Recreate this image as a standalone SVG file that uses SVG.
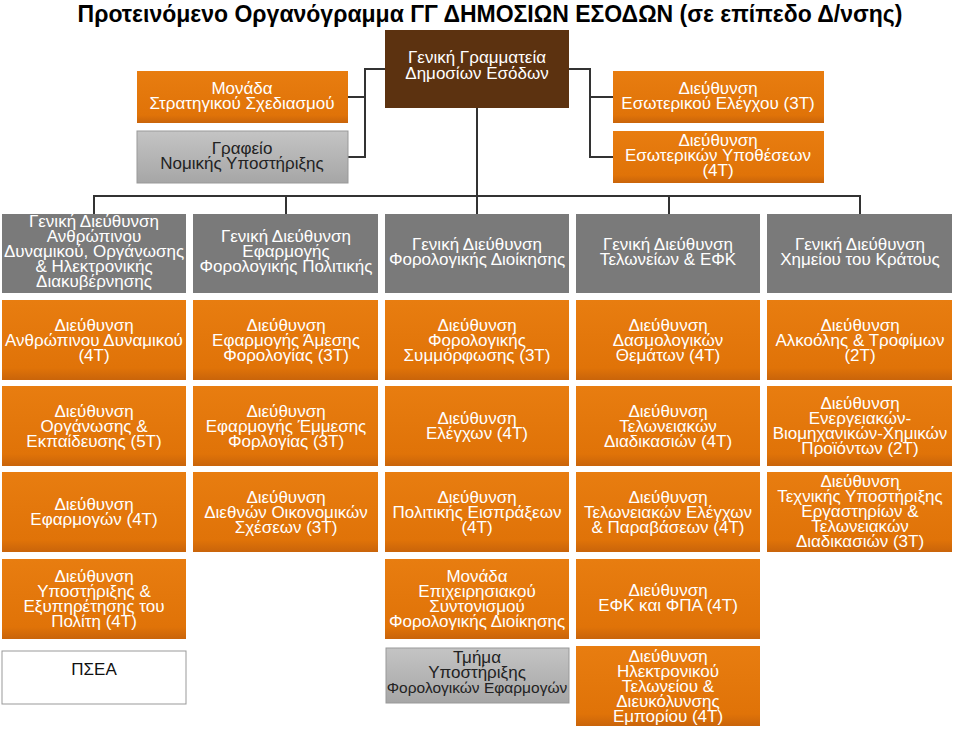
<svg xmlns="http://www.w3.org/2000/svg" width="960" height="729" viewBox="0 0 960 729">
<defs>
<linearGradient id="og" x1="0" y1="0" x2="0" y2="1"><stop offset="0" stop-color="#e87d10"/><stop offset="0.85" stop-color="#e07308"/><stop offset="1" stop-color="#c9640a"/></linearGradient>
<linearGradient id="gg" x1="0" y1="0" x2="0" y2="1"><stop offset="0" stop-color="#c4c4c4"/><stop offset="1" stop-color="#a6a6a6"/></linearGradient>
</defs>
<style>
text{font-family:"Liberation Sans",Arial,sans-serif;font-size:17px;text-anchor:middle}
.o rect{fill:url(#og)}
.g rect{fill:#7a7a7a}
.o text,.g text,.b text{fill:#fff}
.l rect{fill:url(#gg);stroke:#999}
.l text{fill:#222}
.w rect{fill:#fff;stroke:#999}
.w text{fill:#111}
.b rect{fill:#5c3210}
#conn path{fill:none;stroke:#333;stroke-width:2}
</style>
<rect width="960" height="729" fill="#fff"/>
<text x="490" y="22" style="font-size:23px;font-weight:bold;fill:#000">Προτεινόμενο Οργανόγραμμα ΓΓ ΔΗΜΟΣΙΩΝ ΕΣΟΔΩΝ (σε επίπεδο Δ/νσης)</text>
<g id="conn">
<path d="M385 69H365V157H348M365 97H348"/>
<path d="M569 69H590V157H613M590 97H613"/>
<path d="M477 108V214M94 214V196H860V214M286 196V214M669 196V214"/>
</g>
<g id="top" class="b"><rect x="385" y="30" width="184" height="78"/><text x="477" y="63">Γενική Γραμματεία</text><text x="477" y="79">Δημοσίων Εσόδων</text></g>
<g id="mss" class="o"><rect x="137" y="71" width="211" height="52"/><text x="242" y="94">Μονάδα</text><text x="242" y="109">Στρατηγικού Σχεδιασμού</text></g>
<g id="gny" class="l"><rect x="137" y="131" width="211" height="52"/><text x="242" y="154">Γραφείο</text><text x="242" y="169">Νομικής Υποστήριξης</text></g>
<g id="dee" class="o"><rect x="613" y="71" width="211" height="52"/><text x="718" y="94">Διεύθυνση</text><text x="718" y="109">Εσωτερικού Ελέγχου (3Τ)</text></g>
<g id="deu" class="o"><rect x="613" y="131" width="211" height="52"/><text x="718" y="146">Διεύθυνση</text><text x="718" y="161">Εσωτερικών Υποθέσεων</text><text x="718" y="176">(4Τ)</text></g>

<g id="gd1" class="g"><rect x="2" y="214" width="184" height="79"/><text x="94" y="227">Γενική Διεύθυνση</text><text x="94" y="242">Ανθρώπινου</text><text x="94" y="257">Δυναμικού, Οργάνωσης</text><text x="94" y="272">&amp; Ηλεκτρονικής</text><text x="94" y="287">Διακυβέρνησης</text></g>
<g id="gd2" class="g"><rect x="193" y="214" width="185" height="79"/><text x="286" y="242">Γενική Διεύθυνση</text><text x="286" y="257">Εφαρμογής</text><text x="286" y="272">Φορολογικής Πολιτικής</text></g>
<g id="gd3" class="g"><rect x="385" y="214" width="184" height="79"/><text x="477" y="250">Γενική Διεύθυνση</text><text x="477" y="265">Φορολογικής Διοίκησης</text></g>
<g id="gd4" class="g"><rect x="576" y="214" width="184" height="79"/><text x="668" y="250">Γενική Διεύθυνση</text><text x="668" y="265">Τελωνείων &amp; ΕΦΚ</text></g>
<g id="gd5" class="g"><rect x="767" y="214" width="185" height="79"/><text x="860" y="250">Γενική Διεύθυνση</text><text x="860" y="265">Χημείου του Κράτους</text></g>

<g id="r1c1" class="o"><rect x="2" y="300" width="184" height="80"/><text x="94" y="331">Διεύθυνση</text><text x="94" y="346">Ανθρώπινου Δυναμικού</text><text x="94" y="361">(4Τ)</text></g>
<g id="r1c2" class="o"><rect x="193" y="300" width="185" height="80"/><text x="286" y="331">Διεύθυνση</text><text x="286" y="346">Εφαρμογής Άμεσης</text><text x="286" y="361">Φορολογίας (3Τ)</text></g>
<g id="r1c3" class="o"><rect x="385" y="300" width="184" height="80"/><text x="477" y="331">Διεύθυνση</text><text x="477" y="346">Φορολογικής</text><text x="477" y="361">Συμμόρφωσης (3Τ)</text></g>
<g id="r1c4" class="o"><rect x="576" y="300" width="184" height="80"/><text x="668" y="331">Διεύθυνση</text><text x="668" y="346">Δασμολογικών</text><text x="668" y="361">Θεμάτων (4Τ)</text></g>
<g id="r1c5" class="o"><rect x="767" y="300" width="185" height="80"/><text x="860" y="331">Διεύθυνση</text><text x="860" y="346">Αλκοόλης &amp; Τροφίμων</text><text x="860" y="361">(2Τ)</text></g>

<g id="r2c1" class="o"><rect x="2" y="386" width="184" height="80"/><text x="94" y="417">Διεύθυνση</text><text x="94" y="432">Οργάνωσης &amp;</text><text x="94" y="447">Εκπαίδευσης (5Τ)</text></g>
<g id="r2c2" class="o"><rect x="193" y="386" width="185" height="80"/><text x="286" y="417">Διεύθυνση</text><text x="286" y="432">Εφαρμογής Έμμεσης</text><text x="286" y="447">Φορλογίας (3Τ)</text></g>
<g id="r2c3" class="o"><rect x="385" y="386" width="184" height="80"/><text x="477" y="424">Διεύθυνση</text><text x="477" y="439">Ελέγχων (4Τ)</text></g>
<g id="r2c4" class="o"><rect x="576" y="386" width="184" height="80"/><text x="668" y="417">Διεύθυνση</text><text x="668" y="432">Τελωνειακών</text><text x="668" y="447">Διαδικασιών (4Τ)</text></g>
<g id="r2c5" class="o"><rect x="767" y="386" width="185" height="80"/><text x="860" y="409">Διεύθυνση</text><text x="860" y="424">Ενεργειακών-</text><text x="860" y="439">Βιομηχανικών-Χημικών</text><text x="860" y="454">Προϊόντων (2Τ)</text></g>

<g id="r3c1" class="o"><rect x="2" y="472" width="184" height="80"/><text x="94" y="510">Διεύθυνση</text><text x="94" y="525">Εφαρμογών (4Τ)</text></g>
<g id="r3c2" class="o"><rect x="193" y="472" width="185" height="80"/><text x="286" y="503">Διεύθυνση</text><text x="286" y="518">Διεθνών Οικονομικών</text><text x="286" y="533">Σχέσεων (3Τ)</text></g>
<g id="r3c3" class="o"><rect x="385" y="472" width="184" height="80"/><text x="477" y="503">Διεύθυνση</text><text x="477" y="518">Πολιτικής Εισπράξεων</text><text x="477" y="533">(4Τ)</text></g>
<g id="r3c4" class="o"><rect x="576" y="472" width="184" height="80"/><text x="668" y="503">Διεύθυνση</text><text x="668" y="518">Τελωνειακών Ελέγχων</text><text x="668" y="533">&amp; Παραβάσεων (4Τ)</text></g>
<g id="r3c5" class="o"><rect x="767" y="472" width="185" height="80"/><text x="860" y="487">Διεύθυνση</text><text x="860" y="502">Τεχνικής Υποστήριξης</text><text x="860" y="517">Εργαστηρίων &amp;</text><text x="860" y="532">Τελωνειακών</text><text x="860" y="547">Διαδικασιών (3Τ)</text></g>

<g id="r4c1" class="o"><rect x="2" y="559" width="184" height="80"/><text x="94" y="582">Διεύθυνση</text><text x="94" y="597">Υποστήριξης &amp;</text><text x="94" y="612">Εξυπηρέτησης του</text><text x="94" y="627">Πολίτη (4Τ)</text></g>
<g id="r4c3" class="o"><rect x="385" y="559" width="184" height="80"/><text x="477" y="582">Μονάδα</text><text x="477" y="597">Επιχειρησιακού</text><text x="477" y="612">Συντονισμού</text><text x="477" y="627">Φορολογικής Διοίκησης</text></g>
<g id="r4c4" class="o"><rect x="576" y="559" width="184" height="80"/><text x="668" y="596">Διεύθυνση</text><text x="668" y="611">ΕΦΚ και ΦΠΑ (4Τ)</text></g>

<g id="psea" class="w"><rect x="2" y="651" width="184" height="53"/><text x="94" y="675">ΠΣΕΑ</text></g>
<g id="tmima" class="l"><rect x="386" y="648" width="183" height="55"/><text x="477" y="663">Τμήμα</text><text x="477" y="678">Υποστήριξης</text><text x="477" y="693" style="font-size:15.5px">Φορολογικών Εφαρμογών</text></g>
<g id="r5c4" class="o"><rect x="576" y="646" width="184" height="80"/><text x="668" y="662">Διεύθυνση</text><text x="668" y="677">Ηλεκτρονικού</text><text x="668" y="692">Τελωνείου &amp;</text><text x="668" y="707">Διευκόλυνσης</text><text x="668" y="722">Εμπορίου (4Τ)</text></g>
</svg>
